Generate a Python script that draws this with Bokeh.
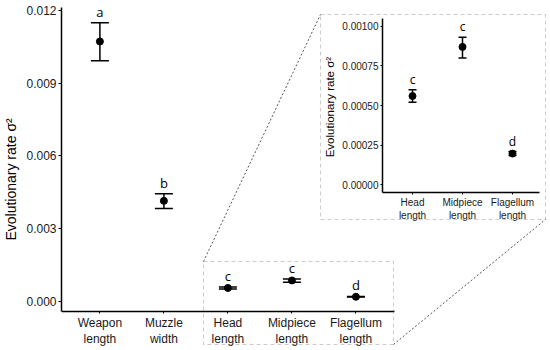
from bokeh.plotting import figure
from bokeh.models import (ColumnDataSource, Range1d, FixedTicker, LinearAxis,
                          PrintfTickFormatter, Whisker, TeeHead, BoxAnnotation, Arrow)
from bokeh.embed import file_html
from bokeh.resources import INLINE
from bokeh.core.properties import value

# ---------------- data ----------------
categories = ["Weapon\nlength", "Muzzle\nwidth", "Head\nlength", "Midpiece\nlength", "Flagellum\nlength"]
rate = [0.01072, 0.00415, 0.00056, 0.00087, 0.000197]
lower = [0.00993, 0.00384, 0.00052, 0.00080, 0.000185]
upper = [0.01149, 0.00444, 0.00060, 0.00093, 0.000210]
letters = ["a", "b", "c", "c", "d"]
main_ticks = [0.0, 0.003, 0.006, 0.009, 0.012]
inset_start = 2  # the inset shows the last three traits
inset_ticks = [0.0, 0.00025, 0.0005, 0.00075, 0.001]
y_title = "Evolutionary rate  \u03c3\u00b2"

FONT = "Liberation Sans"

pos = [i + 1 for i in range(len(categories))]
inset_cats = categories[inset_start:]
inset_pos = [i + 1 for i in range(len(inset_cats))]

src = ColumnDataSource(dict(x=pos, rate=rate, lower=lower, upper=upper, letter=letters))
inset_src = ColumnDataSource(dict(x=inset_pos, rate=rate[inset_start:], lower=lower[inset_start:],
                                  upper=upper[inset_start:], letter=letters[inset_start:]))

# ---------------- geometry (page pixels) ----------------
FL, FR, FT, FB = 61, 549, 7, 347               # drawing frame of the figure
MAIN_BOTTOM, MAIN_RIGHT_X = 311, 0.6            # main panel bottom (px), right padding (categories)
MAIN_PX = 64.0                                  # px per category, main panel
Y0, Y1 = -0.00041, 0.01212                      # main y limits (bottom at MAIN_BOTTOM, top at FT)
IX0_PX, INSET_PX, INSET_RIGHT = 412, 50.0, 539  # inset: first centre, px per category, right edge
IY_TOP, IY_BOT = 18, 192                        # inset panel vertical extent
I0, I1 = -0.0000486, 0.001049                   # inset y limits

ppu = (MAIN_BOTTOM - FT) / (Y1 - Y0)
xr = Range1d(0.4, 0.4 + (FR - FL) / MAIN_PX)
yr = Range1d(Y0 - (FB - MAIN_BOTTOM) / ppu, Y1)
p = figure(width=550, height=350, x_range=xr, y_range=yr,
           output_backend="svg", toolbar_location=None,
           min_border_left=FL, min_border_right=550 - FR, min_border_top=FT,
           min_border_bottom=350 - FB)
p.grid.visible = False
p.outline_line_color = None

ix_start = 1 - (IX0_PX - FL) / INSET_PX
ix_end = 1 + (FR - IX0_PX) / INSET_PX
ippu = (IY_BOT - IY_TOP) / (I1 - I0)
p.extra_x_ranges = {"ix": Range1d(ix_start, ix_end)}
p.extra_y_ranges = {"iy": Range1d(I0 - (FB - IY_BOT) / ippu, I1 + (IY_TOP - FT) / ippu)}


def style_axis(ax, tick_size, title_size, tick_out):
    ax.axis_line_color = "black"
    ax.axis_line_width = 1.5
    ax.major_tick_line_color = "black"
    ax.major_tick_in = 0
    ax.major_tick_out = tick_out
    ax.minor_tick_line_color = None
    ax.major_label_text_font = FONT
    ax.major_label_text_font_size = tick_size
    ax.major_label_text_color = "#1a1a1a"
    ax.axis_label_text_font = FONT
    ax.axis_label_text_font_style = "normal"
    ax.axis_label_text_color = "black"
    ax.axis_label_text_font_size = title_size
    ax.major_label_standoff = 2


# main axes
xa = p.xaxis[0]
style_axis(xa, "12px", "14px", 2)
xa.ticker = FixedTicker(ticks=pos)
xa.major_label_overrides = {k: c for k, c in zip(pos, categories)}
xa.bounds = (0.4, len(categories) + MAIN_RIGHT_X)
xa.fixed_location = Y0
ya = p.yaxis[0]
style_axis(ya, "12px", "14px", 3)
ya.ticker = FixedTicker(ticks=main_ticks)
ya.formatter = PrintfTickFormatter(format="%.3f")
ya.axis_label = y_title
ya.axis_label_standoff = 4
ya.bounds = (Y0, Y1)

p.add_layout(Whisker(base="x", upper="upper", lower="lower", source=src, line_width=1.5,
                     line_color="black",
                     upper_head=TeeHead(size=18, line_width=1.5, line_color="black"),
                     lower_head=TeeHead(size=18, line_width=1.5, line_color="black")))
p.scatter(x="x", y="rate", source=src, size=7, color="black")
p.text(x="x", y="upper", text="letter", source=src, text_align="center",
       text_baseline="bottom", y_offset=-2, text_font=value("Open Sans"),
       text_font_size="13px", text_color="black")


# helpers converting page pixels to main-plot coordinates (decorations only)
def sx(px):
    return 0.4 + (px - FL) / MAIN_PX


def sy(py):
    return Y0 + (MAIN_BOTTOM - py) / ppu


box_style = dict(fill_alpha=0, line_color="#555555", line_dash="4 3", line_width=1)
p.add_layout(BoxAnnotation(left=sx(203), right=sx(393), top=sy(261), bottom=sy(344), **box_style))
p.add_layout(BoxAnnotation(left=sx(320), right=sx(545), top=sy(14), bottom=sy(219), **box_style))
link_style = dict(end=None, line_color="#555555", line_dash="2 2", line_width=1)
p.add_layout(Arrow(x_start=sx(203), y_start=sy(261), x_end=sx(320), y_end=sy(14), **link_style))
p.add_layout(Arrow(x_start=sx(393), y_start=sy(344), x_end=sx(545), y_end=sy(219), **link_style))

# ---------------- inset (own ranges and axes) ----------------
iya = LinearAxis(x_range_name="ix", y_range_name="iy", fixed_location=0.4,
                 bounds=(I0, I1), ticker=FixedTicker(ticks=inset_ticks),
                 formatter=PrintfTickFormatter(format="%.5f"), axis_label=y_title)
style_axis(iya, "10px", "11.5px", 2)
iya.axis_label_standoff = 3
p.add_layout(iya, "left")

ixa = LinearAxis(x_range_name="ix", y_range_name="iy", fixed_location=I0,
                 bounds=(0.4, 1 + (INSET_RIGHT - IX0_PX) / INSET_PX),
                 ticker=FixedTicker(ticks=inset_pos),
                 major_label_overrides={k: c for k, c in zip(inset_pos, inset_cats)})
style_axis(ixa, "10px", "11.5px", 2)
p.add_layout(ixa, "below")

p.add_layout(Whisker(base="x", upper="upper", lower="lower", source=inset_src, line_width=1.5,
                     line_color="black", x_range_name="ix", y_range_name="iy",
                     upper_head=TeeHead(size=8, line_width=1.5, line_color="black"),
                     lower_head=TeeHead(size=8, line_width=1.5, line_color="black")))
p.scatter(x="x", y="rate", source=inset_src, size=7, color="black",
          x_range_name="ix", y_range_name="iy")
p.text(x="x", y="upper", text="letter", source=inset_src, text_align="center",
       text_baseline="bottom", y_offset=-2, text_font=value("Open Sans"),
       text_font_size="12px", text_color="black", x_range_name="ix", y_range_name="iy")

open("out.html", "w").write(file_html(p, INLINE))
